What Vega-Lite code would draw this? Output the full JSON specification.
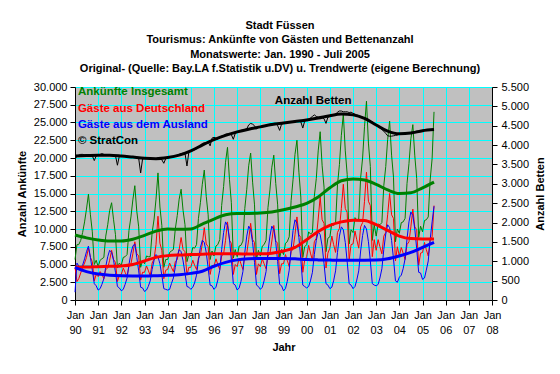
{
"$schema": "https://vega.github.io/schema/vega-lite/v6.json",
"width": 417, "height": 213,
"autosize": {"type": "none"},
"padding": {"left": 75, "top": 87, "right": 68, "bottom": 74},
"background": "#FFFFFF",
"config": {
  "locale": {"number": {"decimal": ",", "thousands": ".", "grouping": [3], "currency": ["", " €"]}},
  "font": "Liberation Sans",
  "view": {"fill": "#C0C0C0", "stroke": "#808080", "strokeWidth": 1},
  "axis": {"labelFont": "Liberation Sans", "labelFontSize": 11, "labelColor": "#000000", "titleFont": "Liberation Sans", "titleFontSize": 11, "titleFontWeight": "bold", "titleColor": "#000000", "domainColor": "#000000", "tickColor": "#000000", "tickSize": 5, "gridColor": "#00FFFF", "gridOpacity": 1, "gridWidth": 1}
},
"title": {"text": ["Stadt Füssen", "Tourismus: Ankünfte von Gästen und Bettenanzahl", "Monatswerte: Jan. 1990 - Juli 2005", "Original- (Quelle: Bay.LA f.Statistik u.DV) u. Trendwerte (eigene Berechnung)"], "font": "Liberation Sans", "fontSize": 11, "fontWeight": "bold", "color": "#000000", "lineHeight": 14.5, "anchor": "middle", "frame": "group", "dx": -3.5, "offset": 7},
"datasets": {
"monthly": [
{"m":"1990-01-01","t":5700,"de":4600,"au":1100,"b":3650},
{"m":"1990-02-01","t":7800,"de":2600,"au":5200,"b":3700},
{"m":"1990-03-01","t":7800,"de":3000,"au":4800,"b":3740},
{"m":"1990-04-01","t":8400,"de":3800,"au":4600,"b":3760},
{"m":"1990-05-01","t":9500,"de":4600,"au":4900,"b":3760},
{"m":"1990-06-01","t":11000,"de":5200,"au":5800,"b":3740},
{"m":"1990-07-01","t":12800,"de":6000,"au":6800,"b":3740},
{"m":"1990-08-01","t":14900,"de":7300,"au":7600,"b":3730},
{"m":"1990-09-01","t":12000,"de":6000,"au":6000,"b":3720},
{"m":"1990-10-01","t":9600,"de":5400,"au":4200,"b":3720},
{"m":"1990-11-01","t":5000,"de":2700,"au":2300,"b":3600},
{"m":"1990-12-01","t":5600,"de":3600,"au":2000,"b":3720},
{"m":"1991-01-01","t":4700,"de":3300,"au":1400,"b":3740},
{"m":"1991-02-01","t":5600,"de":4000,"au":1600,"b":3760},
{"m":"1991-03-01","t":5800,"de":3600,"au":2200,"b":3780},
{"m":"1991-04-01","t":6000,"de":3000,"au":3000,"b":3760},
{"m":"1991-05-01","t":9000,"de":4300,"au":4700,"b":3750},
{"m":"1991-06-01","t":10600,"de":4500,"au":6100,"b":3740},
{"m":"1991-07-01","t":12600,"de":5600,"au":7000,"b":3740},
{"m":"1991-08-01","t":13700,"de":7000,"au":6700,"b":3740},
{"m":"1991-09-01","t":11300,"de":5700,"au":5600,"b":3730},
{"m":"1991-10-01","t":9200,"de":5300,"au":3900,"b":3730},
{"m":"1991-11-01","t":4500,"de":2600,"au":1900,"b":3480},
{"m":"1991-12-01","t":5200,"de":3500,"au":1700,"b":3720},
{"m":"1992-01-01","t":4900,"de":3600,"au":1300,"b":3720},
{"m":"1992-02-01","t":6000,"de":4500,"au":1500,"b":3720},
{"m":"1992-03-01","t":6100,"de":3900,"au":2200,"b":3710},
{"m":"1992-04-01","t":6400,"de":3300,"au":3100,"b":3700},
{"m":"1992-05-01","t":9800,"de":4800,"au":5000,"b":3700},
{"m":"1992-06-01","t":11700,"de":5100,"au":6600,"b":3690},
{"m":"1992-07-01","t":14100,"de":6500,"au":7600,"b":3680},
{"m":"1992-08-01","t":16100,"de":8200,"au":7900,"b":3680},
{"m":"1992-09-01","t":12500,"de":6500,"au":6000,"b":3680},
{"m":"1992-10-01","t":10300,"de":6200,"au":4100,"b":3660},
{"m":"1992-11-01","t":4600,"de":2800,"au":1800,"b":3280},
{"m":"1992-12-01","t":5600,"de":3900,"au":1700,"b":3640},
{"m":"1993-01-01","t":5100,"de":3900,"au":1200,"b":3660},
{"m":"1993-02-01","t":6200,"de":4800,"au":1400,"b":3660},
{"m":"1993-03-01","t":6100,"de":4200,"au":1900,"b":3650},
{"m":"1993-04-01","t":6100,"de":3400,"au":2700,"b":3640},
{"m":"1993-05-01","t":9500,"de":5200,"au":4300,"b":3640},
{"m":"1993-06-01","t":11400,"de":5800,"au":5600,"b":3650},
{"m":"1993-07-01","t":14200,"de":7800,"au":6400,"b":3650},
{"m":"1993-08-01","t":17900,"de":11800,"au":6100,"b":3660},
{"m":"1993-09-01","t":13100,"de":8000,"au":5100,"b":3660},
{"m":"1993-10-01","t":10500,"de":7000,"au":3500,"b":3620},
{"m":"1993-11-01","t":4600,"de":3000,"au":1600,"b":3530},
{"m":"1993-12-01","t":5700,"de":4200,"au":1500,"b":3650},
{"m":"1994-01-01","t":5700,"de":4300,"au":1400,"b":3670},
{"m":"1994-02-01","t":6700,"de":5200,"au":1500,"b":3680},
{"m":"1994-03-01","t":6900,"de":4600,"au":2300,"b":3700},
{"m":"1994-04-01","t":7100,"de":4000,"au":3100,"b":3700},
{"m":"1994-05-01","t":10000,"de":5400,"au":4600,"b":3720},
{"m":"1994-06-01","t":11900,"de":5700,"au":6200,"b":3740},
{"m":"1994-07-01","t":14200,"de":7100,"au":7100,"b":3760},
{"m":"1994-08-01","t":15600,"de":8800,"au":6800,"b":3780},
{"m":"1994-09-01","t":12600,"de":7100,"au":5500,"b":3790},
{"m":"1994-10-01","t":10600,"de":6800,"au":3800,"b":3790},
{"m":"1994-11-01","t":5400,"de":3500,"au":1900,"b":3460},
{"m":"1994-12-01","t":6400,"de":4600,"au":1800,"b":3820},
{"m":"1995-01-01","t":6100,"de":4600,"au":1500,"b":3840},
{"m":"1995-02-01","t":7400,"de":5600,"au":1800,"b":3860},
{"m":"1995-03-01","t":7300,"de":4900,"au":2400,"b":3880},
{"m":"1995-04-01","t":7800,"de":4300,"au":3500,"b":3900},
{"m":"1995-05-01","t":11500,"de":5900,"au":5600,"b":3950},
{"m":"1995-06-01","t":13700,"de":6300,"au":7400,"b":4000},
{"m":"1995-07-01","t":16300,"de":7900,"au":8400,"b":4040},
{"m":"1995-08-01","t":18300,"de":10200,"au":8100,"b":4060},
{"m":"1995-09-01","t":14600,"de":7900,"au":6700,"b":4060},
{"m":"1995-10-01","t":12000,"de":7500,"au":4500,"b":4080},
{"m":"1995-11-01","t":5700,"de":3600,"au":2100,"b":3980},
{"m":"1995-12-01","t":6900,"de":4900,"au":2000,"b":4180},
{"m":"1996-01-01","t":6200,"de":4700,"au":1500,"b":4200},
{"m":"1996-02-01","t":7600,"de":5800,"au":1800,"b":4180},
{"m":"1996-03-01","t":7800,"de":5000,"au":2800,"b":4150},
{"m":"1996-04-01","t":8500,"de":4300,"au":4200,"b":4200},
{"m":"1996-05-01","t":13300,"de":6200,"au":7100,"b":4230},
{"m":"1996-06-01","t":16000,"de":6500,"au":9500,"b":4250},
{"m":"1996-07-01","t":19400,"de":8400,"au":11000,"b":4280},
{"m":"1996-08-01","t":21500,"de":11000,"au":10500,"b":4290},
{"m":"1996-09-01","t":17000,"de":8400,"au":8600,"b":4300},
{"m":"1996-10-01","t":13700,"de":8000,"au":5700,"b":4270},
{"m":"1996-11-01","t":5900,"de":3600,"au":2300,"b":4150},
{"m":"1996-12-01","t":7100,"de":5000,"au":2100,"b":4300},
{"m":"1997-01-01","t":6100,"de":4700,"au":1400,"b":4330},
{"m":"1997-02-01","t":7600,"de":5900,"au":1700,"b":4350},
{"m":"1997-03-01","t":7700,"de":5100,"au":2600,"b":4380},
{"m":"1997-04-01","t":8300,"de":4300,"au":4000,"b":4380},
{"m":"1997-05-01","t":12900,"de":6200,"au":6700,"b":4400},
{"m":"1997-06-01","t":15600,"de":6600,"au":9000,"b":4420},
{"m":"1997-07-01","t":18900,"de":8500,"au":10400,"b":4520},
{"m":"1997-08-01","t":20700,"de":10800,"au":9900,"b":4560},
{"m":"1997-09-01","t":16600,"de":8500,"au":8100,"b":4540},
{"m":"1997-10-01","t":13400,"de":8100,"au":5300,"b":4500},
{"m":"1997-11-01","t":5700,"de":3600,"au":2100,"b":4420},
{"m":"1997-12-01","t":7000,"de":5100,"au":1900,"b":4460},
{"m":"1998-01-01","t":6200,"de":4700,"au":1500,"b":4470},
{"m":"1998-02-01","t":7600,"de":5800,"au":1800,"b":4480},
{"m":"1998-03-01","t":7800,"de":5100,"au":2700,"b":4500},
{"m":"1998-04-01","t":8400,"de":4400,"au":4000,"b":4510},
{"m":"1998-05-01","t":13000,"de":6200,"au":6800,"b":4520},
{"m":"1998-06-01","t":15500,"de":6500,"au":9000,"b":4540},
{"m":"1998-07-01","t":18700,"de":8300,"au":10400,"b":4550},
{"m":"1998-08-01","t":20400,"de":10500,"au":9900,"b":4560},
{"m":"1998-09-01","t":16400,"de":8300,"au":8100,"b":4560},
{"m":"1998-10-01","t":13400,"de":8000,"au":5400,"b":4500},
{"m":"1998-11-01","t":5900,"de":3700,"au":2200,"b":4380},
{"m":"1998-12-01","t":7100,"de":5100,"au":2000,"b":4540},
{"m":"1999-01-01","t":6400,"de":5100,"au":1300,"b":4560},
{"m":"1999-02-01","t":8000,"de":6400,"au":1600,"b":4570},
{"m":"1999-03-01","t":8200,"de":5600,"au":2600,"b":4580},
{"m":"1999-04-01","t":8900,"de":4700,"au":4200,"b":4590},
{"m":"1999-05-01","t":14000,"de":6800,"au":7200,"b":4600},
{"m":"1999-06-01","t":17000,"de":7200,"au":9800,"b":4610},
{"m":"1999-07-01","t":20500,"de":9200,"au":11300,"b":4620},
{"m":"1999-08-01","t":22500,"de":11700,"au":10800,"b":4630},
{"m":"1999-09-01","t":18000,"de":9200,"au":8800,"b":4630},
{"m":"1999-10-01","t":14500,"de":8800,"au":5700,"b":4600},
{"m":"1999-11-01","t":6000,"de":3900,"au":2100,"b":4440},
{"m":"1999-12-01","t":7500,"de":5600,"au":1900,"b":4620},
{"m":"2000-01-01","t":7800,"de":6100,"au":1700,"b":4640},
{"m":"2000-02-01","t":9600,"de":7700,"au":1900,"b":4660},
{"m":"2000-03-01","t":9300,"de":6600,"au":2700,"b":4700},
{"m":"2000-04-01","t":9500,"de":5600,"au":3900,"b":4740},
{"m":"2000-05-01","t":14600,"de":8200,"au":6400,"b":4780},
{"m":"2000-06-01","t":17100,"de":8700,"au":8400,"b":4740},
{"m":"2000-07-01","t":21000,"de":11400,"au":9600,"b":4720},
{"m":"2000-08-01","t":23700,"de":14500,"au":9200,"b":4720},
{"m":"2000-09-01","t":18900,"de":11300,"au":7600,"b":4710},
{"m":"2000-10-01","t":15900,"de":10800,"au":5100,"b":4680},
{"m":"2000-11-01","t":6800,"de":4500,"au":2300,"b":4560},
{"m":"2000-12-01","t":8700,"de":6600,"au":2100,"b":4720},
{"m":"2001-01-01","t":8900,"de":7300,"au":1600,"b":4740},
{"m":"2001-02-01","t":10800,"de":9000,"au":1800,"b":4760},
{"m":"2001-03-01","t":10500,"de":7800,"au":2700,"b":4780},
{"m":"2001-04-01","t":10800,"de":6700,"au":4100,"b":4800},
{"m":"2001-05-01","t":16200,"de":9500,"au":6700,"b":4850},
{"m":"2001-06-01","t":19100,"de":10100,"au":9000,"b":4880},
{"m":"2001-07-01","t":23200,"de":12900,"au":10300,"b":4880},
{"m":"2001-08-01","t":26200,"de":16300,"au":9900,"b":4860},
{"m":"2001-09-01","t":21000,"de":12900,"au":8100,"b":4860},
{"m":"2001-10-01","t":17700,"de":12300,"au":5400,"b":4860},
{"m":"2001-11-01","t":7900,"de":5600,"au":2300,"b":4840},
{"m":"2001-12-01","t":9900,"de":7800,"au":2100,"b":4850},
{"m":"2002-01-01","t":9500,"de":7900,"au":1600,"b":4820},
{"m":"2002-02-01","t":11600,"de":9700,"au":1900,"b":4800},
{"m":"2002-03-01","t":11300,"de":8500,"au":2800,"b":4780},
{"m":"2002-04-01","t":11400,"de":7300,"au":4100,"b":4760},
{"m":"2002-05-01","t":17200,"de":10300,"au":6900,"b":4740},
{"m":"2002-06-01","t":20000,"de":10900,"au":9100,"b":4720},
{"m":"2002-07-01","t":24400,"de":13900,"au":10500,"b":4700},
{"m":"2002-08-01","t":28000,"de":18000,"au":10000,"b":4680},
{"m":"2002-09-01","t":22100,"de":13900,"au":8200,"b":4660},
{"m":"2002-10-01","t":18800,"de":13300,"au":5500,"b":4620},
{"m":"2002-11-01","t":8400,"de":6100,"au":2300,"b":4600},
{"m":"2002-12-01","t":10600,"de":8500,"au":2100,"b":4560},
{"m":"2003-01-01","t":9000,"de":7000,"au":2000,"b":4520},
{"m":"2003-02-01","t":10700,"de":8500,"au":2200,"b":4480},
{"m":"2003-03-01","t":10600,"de":7500,"au":3100,"b":4440},
{"m":"2003-04-01","t":10900,"de":6500,"au":4400,"b":4400},
{"m":"2003-05-01","t":16100,"de":9000,"au":7100,"b":4360},
{"m":"2003-06-01","t":18800,"de":9500,"au":9300,"b":4300},
{"m":"2003-07-01","t":22600,"de":12000,"au":10600,"b":4240},
{"m":"2003-08-01","t":25200,"de":15000,"au":10200,"b":4230},
{"m":"2003-09-01","t":20400,"de":12000,"au":8400,"b":4230},
{"m":"2003-10-01","t":17300,"de":11500,"au":5800,"b":4240},
{"m":"2003-11-01","t":8200,"de":5500,"au":2700,"b":4250},
{"m":"2003-12-01","t":10000,"de":7500,"au":2500,"b":4260},
{"m":"2004-01-01","t":9400,"de":6200,"au":3200,"b":4280},
{"m":"2004-02-01","t":10900,"de":7400,"au":3500,"b":4290},
{"m":"2004-03-01","t":11000,"de":6600,"au":4400,"b":4290},
{"m":"2004-04-01","t":11500,"de":5700,"au":5800,"b":4300},
{"m":"2004-05-01","t":16400,"de":7800,"au":8600,"b":4300},
{"m":"2004-06-01","t":19200,"de":8200,"au":11000,"b":4310},
{"m":"2004-07-01","t":22700,"de":10300,"au":12400,"b":4320},
{"m":"2004-08-01","t":24700,"de":12800,"au":11900,"b":4340},
{"m":"2004-09-01","t":20300,"de":10300,"au":10000,"b":4350},
{"m":"2004-10-01","t":17100,"de":9900,"au":7200,"b":4360},
{"m":"2004-11-01","t":8800,"de":4900,"au":3900,"b":4360},
{"m":"2004-12-01","t":10400,"de":6600,"au":3800,"b":4370},
{"m":"2005-01-01","t":9600,"de":6700,"au":2900,"b":4380},
{"m":"2005-02-01","t":11200,"de":8100,"au":3100,"b":4390},
{"m":"2005-03-01","t":11300,"de":7100,"au":4200,"b":4390},
{"m":"2005-04-01","t":11700,"de":6200,"au":5500,"b":4400},
{"m":"2005-05-01","t":16900,"de":8400,"au":8500,"b":4400},
{"m":"2005-06-01","t":19900,"de":8900,"au":11000,"b":4400},
{"m":"2005-07-01","t":26500,"de":13300,"au":13200,"b":4400}
],
"trend": [
{"m":"1990-01-01","tt":9150,"tde":4650,"tau":4600,"tb":3720},
{"m":"1990-07-01","tt":8750,"tde":4650,"tau":4000,"tb":3730},
{"m":"1991-01-01","tt":8450,"tde":4700,"tau":3650,"tb":3740},
{"m":"1991-07-01","tt":8300,"tde":4750,"tau":3480,"tb":3740},
{"m":"1992-01-01","tt":8300,"tde":4800,"tau":3400,"tb":3720},
{"m":"1992-07-01","tt":8550,"tde":5000,"tau":3380,"tb":3690},
{"m":"1993-01-01","tt":9100,"tde":5500,"tau":3380,"tb":3660},
{"m":"1993-07-01","tt":9700,"tde":6000,"tau":3420,"tb":3650},
{"m":"1994-01-01","tt":10000,"tde":6250,"tau":3480,"tb":3680},
{"m":"1994-07-01","tt":9950,"tde":6350,"tau":3560,"tb":3740},
{"m":"1995-01-01","tt":10000,"tde":6400,"tau":3750,"tb":3850},
{"m":"1995-07-01","tt":10700,"tde":6450,"tau":4050,"tb":4000},
{"m":"1996-01-01","tt":11400,"tde":6500,"tau":4750,"tb":4140},
{"m":"1996-07-01","tt":12000,"tde":6500,"tau":5300,"tb":4250},
{"m":"1997-01-01","tt":12200,"tde":6500,"tau":5650,"tb":4340},
{"m":"1997-07-01","tt":12200,"tde":6480,"tau":5800,"tb":4410},
{"m":"1998-01-01","tt":12250,"tde":6500,"tau":5850,"tb":4470},
{"m":"1998-07-01","tt":12400,"tde":6600,"tau":5850,"tb":4530},
{"m":"1999-01-01","tt":12700,"tde":6900,"tau":5850,"tb":4570},
{"m":"1999-07-01","tt":13100,"tde":7400,"tau":5800,"tb":4610},
{"m":"2000-01-01","tt":13600,"tde":8500,"tau":5700,"tb":4650},
{"m":"2000-07-01","tt":14500,"tde":9650,"tau":5650,"tb":4700},
{"m":"2001-01-01","tt":15800,"tde":10500,"tau":5620,"tb":4760},
{"m":"2001-07-01","tt":16800,"tde":11000,"tau":5600,"tb":4800},
{"m":"2002-01-01","tt":17050,"tde":11250,"tau":5600,"tb":4780},
{"m":"2002-07-01","tt":16900,"tde":11200,"tau":5600,"tb":4690},
{"m":"2003-01-01","tt":16300,"tde":10600,"tau":5620,"tb":4520},
{"m":"2003-07-01","tt":15500,"tde":9800,"tau":5800,"tb":4360},
{"m":"2004-01-01","tt":15000,"tde":9000,"tau":6200,"tb":4290},
{"m":"2004-07-01","tt":15100,"tde":8650,"tau":6700,"tb":4310},
{"m":"2005-01-01","tt":15800,"tde":8600,"tau":7400,"tb":4370},
{"m":"2005-07-01","tt":16600,"tde":8600,"tau":8100,"tb":4400}
],
"notes": [
{"note": "Ankünfte Insgesamt", "s": "t"},
{"note": "Gäste aus Deutschland", "s": "de"},
{"note": "Gäste aus dem Ausland", "s": "au"},
{"note": "© StratCon", "s": "c"},
{"note": "Anzahl Betten", "s": "b"}
]
},
"layer": [
{
 "layer": [
  {"data": {"name": "monthly"}, "transform": [{"fold": ["t", "de", "au"], "as": ["s", "v"]}],
   "mark": {"type": "line", "strokeWidth": 1},
   "encoding": {
     "x": {"field": "m", "type": "temporal", "title": "Jahr", "scale": {"type": "utc", "domain": [{"year": 1990, "month": 1, "date": 1, "utc": true}, {"year": 2008, "month": 1, "date": 1, "utc": true}]},
       "axis": {"tickCount": {"interval": "year", "step": 1}, "labelExpr": "['Jan', utcFormat(datum.value, '%y')]", "labelLineHeight": 15, "labelOverlap": false, "labelFlush": false, "labelPadding": 4, "grid": true, "titlePadding": 6}},
     "y": {"field": "v", "type": "quantitative", "title": "Anzahl Ankünfte", "scale": {"domain": [0, 30000], "nice": false},
       "axis": {"values": [0, 2500, 5000, 7500, 10000, 12500, 15000, 17500, 20000, 22500, 25000, 27500, 30000], "format": ",d", "grid": true, "labelOverlap": false, "labelPadding": 3, "titlePadding": 6}},
     "color": {"field": "s", "type": "nominal", "legend": null, "scale": {"domain": ["t", "de", "au", "tt", "tde", "tau", "c", "b"], "range": ["#008000", "#FF0000", "#0000FF", "#008000", "#FF0000", "#0000FF", "#000000", "#000000"]}}}},
  {"data": {"name": "trend"}, "transform": [{"fold": ["tt", "tde", "tau"], "as": ["s", "v"]}],
   "mark": {"type": "line", "strokeWidth": 3, "interpolate": "monotone"},
   "encoding": {
     "x": {"field": "m", "type": "temporal", "title": "Jahr", "scale": {"type": "utc", "domain": [{"year": 1990, "month": 1, "date": 1, "utc": true}, {"year": 2008, "month": 1, "date": 1, "utc": true}]},
       "axis": {"tickCount": {"interval": "year", "step": 1}, "labelExpr": "['Jan', utcFormat(datum.value, '%y')]", "labelLineHeight": 15, "labelOverlap": false, "labelFlush": false, "labelPadding": 4, "grid": true, "titlePadding": 6}},
     "y": {"field": "v", "type": "quantitative", "title": "Anzahl Ankünfte", "scale": {"domain": [0, 30000], "nice": false},
       "axis": {"values": [0, 2500, 5000, 7500, 10000, 12500, 15000, 17500, 20000, 22500, 25000, 27500, 30000], "format": ",d", "grid": true, "labelOverlap": false, "labelPadding": 3, "titlePadding": 6}},
     "color": {"field": "s", "type": "nominal", "legend": null, "scale": {"domain": ["t", "de", "au", "tt", "tde", "tau", "c", "b"], "range": ["#008000", "#FF0000", "#0000FF", "#008000", "#FF0000", "#0000FF", "#000000", "#000000"]}}}},
  {"data": {"name": "notes"}, "transform": [{"filter": "datum.s == 't'"}], "mark": {"type": "text", "align": "left", "baseline": "middle", "fontSize": 11.5, "fontWeight": "bold"},
   "encoding": {"text": {"field": "note"}, "color": {"field": "s", "type": "nominal", "legend": null, "scale": {"domain": ["t", "de", "au", "tt", "tde", "tau", "c", "b"], "range": ["#008000", "#FF0000", "#0000FF", "#008000", "#FF0000", "#0000FF", "#000000", "#000000"]}},
     "x": {"datum": {"year": 1990, "month": 2, "date": 16, "utc": true}, "type": "temporal", "title": "Jahr",
       "axis": {"tickCount": {"interval": "year", "step": 1}, "labelExpr": "['Jan', utcFormat(datum.value, '%y')]", "labelLineHeight": 15, "labelOverlap": false, "labelFlush": false, "labelPadding": 4, "grid": true, "titlePadding": 6}},
     "y": {"datum": 29360, "type": "quantitative", "title": "Anzahl Ankünfte",
       "axis": {"values": [0, 2500, 5000, 7500, 10000, 12500, 15000, 17500, 20000, 22500, 25000, 27500, 30000], "format": ",d", "grid": true, "labelOverlap": false, "labelPadding": 3, "titlePadding": 6}}}},
  {"data": {"name": "notes"}, "transform": [{"filter": "datum.s == 'de'"}], "mark": {"type": "text", "align": "left", "baseline": "middle", "fontSize": 11.5, "fontWeight": "bold"},
   "encoding": {"text": {"field": "note"}, "color": {"field": "s", "type": "nominal", "legend": null, "scale": {"domain": ["t", "de", "au", "tt", "tde", "tau", "c", "b"], "range": ["#008000", "#FF0000", "#0000FF", "#008000", "#FF0000", "#0000FF", "#000000", "#000000"]}},
     "x": {"datum": {"year": 1990, "month": 2, "date": 16, "utc": true}, "type": "temporal", "title": "Jahr",
       "axis": {"tickCount": {"interval": "year", "step": 1}, "labelExpr": "['Jan', utcFormat(datum.value, '%y')]", "labelLineHeight": 15, "labelOverlap": false, "labelFlush": false, "labelPadding": 4, "grid": true, "titlePadding": 6}},
     "y": {"datum": 26960, "type": "quantitative", "title": "Anzahl Ankünfte",
       "axis": {"values": [0, 2500, 5000, 7500, 10000, 12500, 15000, 17500, 20000, 22500, 25000, 27500, 30000], "format": ",d", "grid": true, "labelOverlap": false, "labelPadding": 3, "titlePadding": 6}}}},
  {"data": {"name": "notes"}, "transform": [{"filter": "datum.s == 'au'"}], "mark": {"type": "text", "align": "left", "baseline": "middle", "fontSize": 11.5, "fontWeight": "bold"},
   "encoding": {"text": {"field": "note"}, "color": {"field": "s", "type": "nominal", "legend": null, "scale": {"domain": ["t", "de", "au", "tt", "tde", "tau", "c", "b"], "range": ["#008000", "#FF0000", "#0000FF", "#008000", "#FF0000", "#0000FF", "#000000", "#000000"]}},
     "x": {"datum": {"year": 1990, "month": 2, "date": 16, "utc": true}, "type": "temporal", "title": "Jahr",
       "axis": {"tickCount": {"interval": "year", "step": 1}, "labelExpr": "['Jan', utcFormat(datum.value, '%y')]", "labelLineHeight": 15, "labelOverlap": false, "labelFlush": false, "labelPadding": 4, "grid": true, "titlePadding": 6}},
     "y": {"datum": 24640, "type": "quantitative", "title": "Anzahl Ankünfte",
       "axis": {"values": [0, 2500, 5000, 7500, 10000, 12500, 15000, 17500, 20000, 22500, 25000, 27500, 30000], "format": ",d", "grid": true, "labelOverlap": false, "labelPadding": 3, "titlePadding": 6}}}},
  {"data": {"name": "notes"}, "transform": [{"filter": "datum.s == 'c'"}], "mark": {"type": "text", "align": "left", "baseline": "middle", "fontSize": 11.5, "fontWeight": "bold"},
   "encoding": {"text": {"field": "note"}, "color": {"field": "s", "type": "nominal", "legend": null, "scale": {"domain": ["t", "de", "au", "tt", "tde", "tau", "c", "b"], "range": ["#008000", "#FF0000", "#0000FF", "#008000", "#FF0000", "#0000FF", "#000000", "#000000"]}},
     "x": {"datum": {"year": 1990, "month": 2, "date": 16, "utc": true}, "type": "temporal", "title": "Jahr",
       "axis": {"tickCount": {"interval": "year", "step": 1}, "labelExpr": "['Jan', utcFormat(datum.value, '%y')]", "labelLineHeight": 15, "labelOverlap": false, "labelFlush": false, "labelPadding": 4, "grid": true, "titlePadding": 6}},
     "y": {"datum": 22390, "type": "quantitative", "title": "Anzahl Ankünfte",
       "axis": {"values": [0, 2500, 5000, 7500, 10000, 12500, 15000, 17500, 20000, 22500, 25000, 27500, 30000], "format": ",d", "grid": true, "labelOverlap": false, "labelPadding": 3, "titlePadding": 6}}}},
  {"data": {"name": "notes"}, "transform": [{"filter": "datum.s == 'b'"}], "mark": {"type": "text", "align": "left", "baseline": "middle", "fontSize": 11.5, "fontWeight": "bold"},
   "encoding": {"text": {"field": "note"}, "color": {"field": "s", "type": "nominal", "legend": null, "scale": {"domain": ["t", "de", "au", "tt", "tde", "tau", "c", "b"], "range": ["#008000", "#FF0000", "#0000FF", "#008000", "#FF0000", "#0000FF", "#000000", "#000000"]}},
     "x": {"datum": {"year": 1998, "month": 8, "date": 18, "utc": true}, "type": "temporal", "title": "Jahr",
       "axis": {"tickCount": {"interval": "year", "step": 1}, "labelExpr": "['Jan', utcFormat(datum.value, '%y')]", "labelLineHeight": 15, "labelOverlap": false, "labelFlush": false, "labelPadding": 4, "grid": true, "titlePadding": 6}},
     "y": {"datum": 28020, "type": "quantitative", "title": "Anzahl Ankünfte",
       "axis": {"values": [0, 2500, 5000, 7500, 10000, 12500, 15000, 17500, 20000, 22500, 25000, 27500, 30000], "format": ",d", "grid": true, "labelOverlap": false, "labelPadding": 3, "titlePadding": 6}}}}
 ]
},
{
 "layer": [
  {"data": {"name": "monthly"}, "mark": {"type": "line", "color": "#000000", "strokeWidth": 1},
   "encoding": {
     "x": {"field": "m", "type": "temporal", "title": "Jahr", "scale": {"type": "utc", "domain": [{"year": 1990, "month": 1, "date": 1, "utc": true}, {"year": 2008, "month": 1, "date": 1, "utc": true}]},
       "axis": {"tickCount": {"interval": "year", "step": 1}, "labelExpr": "['Jan', utcFormat(datum.value, '%y')]", "labelLineHeight": 15, "labelOverlap": false, "labelFlush": false, "labelPadding": 4, "grid": true, "titlePadding": 6}},
     "y": {"field": "b", "type": "quantitative", "title": "Anzahl Betten", "scale": {"domain": [0, 5500], "nice": false},
       "axis": {"orient": "right", "values": [0, 500, 1000, 1500, 2000, 2500, 3000, 3500, 4000, 4500, 5000, 5500], "format": ",d", "grid": false, "labelOverlap": false, "labelPadding": 4, "titlePadding": 6, "titleAngle": 270, "titleBaseline": "top"}}}},
  {"data": {"name": "trend"}, "mark": {"type": "line", "color": "#000000", "strokeWidth": 3, "interpolate": "monotone"},
   "encoding": {
     "x": {"field": "m", "type": "temporal", "title": "Jahr", "scale": {"type": "utc", "domain": [{"year": 1990, "month": 1, "date": 1, "utc": true}, {"year": 2008, "month": 1, "date": 1, "utc": true}]},
       "axis": {"tickCount": {"interval": "year", "step": 1}, "labelExpr": "['Jan', utcFormat(datum.value, '%y')]", "labelLineHeight": 15, "labelOverlap": false, "labelFlush": false, "labelPadding": 4, "grid": true, "titlePadding": 6}},
     "y": {"field": "tb", "type": "quantitative", "title": "Anzahl Betten", "scale": {"domain": [0, 5500], "nice": false},
       "axis": {"orient": "right", "values": [0, 500, 1000, 1500, 2000, 2500, 3000, 3500, 4000, 4500, 5000, 5500], "format": ",d", "grid": false, "labelOverlap": false, "labelPadding": 4, "titlePadding": 6, "titleAngle": 270, "titleBaseline": "top"}}}}
 ]
}
],
"resolve": {"scale": {"y": "independent"}}
}
